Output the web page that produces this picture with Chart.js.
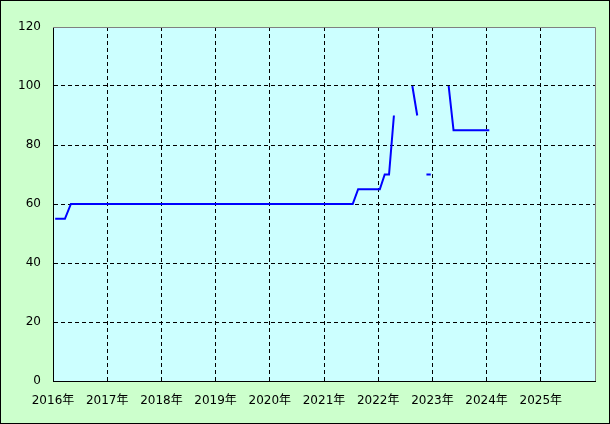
<!DOCTYPE html>
<html lang="ja">
<head>
  <meta charset="UTF-8">
  <title>Chart</title>
  <script src="https://cdn.jsdelivr.net/npm/chart.js"></script>
  <style>
    body { margin: 0; }
    #wrap {
      width: 610px; height: 424px;
      box-sizing: border-box;
      border: 1px solid #000;
      background: #ccffcc;
    }
    #myChart { display: block; }
  </style>
</head>
<body>
  <div id="wrap"><canvas id="myChart" width="608" height="422"></canvas></div>
  <script>
    // x positions in decimal years, null splits the line
    const years = [2016.04, 2016.22, 2016.33, 2021.53, 2021.63, 2022.03, 2022.12, 2022.20, 2022.29, null,
                   2022.63, 2022.72, null,
                   2022.89, 2022.97, null,
                   2023.30, 2023.39, 2024.05];
    const values = [55, 55, 60, 60, 65, 65, 70, 70, 90, null,
                    100, 90, null,
                    70, 70, null,
                    100, 85, 85];
    const yearTicks = [2016, 2017, 2018, 2019, 2020, 2021, 2022, 2023, 2024, 2025];
    const yMax = 120;

    const points = years.map((x, i) => x === null ? { x: NaN, y: null } : { x: x, y: values[i] });

    const frame = {
      id: 'frame',
      beforeDraw(chart) {
        const a = chart.chartArea, c = chart.ctx;
        c.save();
        c.fillStyle = '#ccffff';
        c.fillRect(a.left, a.top, a.right - a.left, a.bottom - a.top);
        c.restore();
      },
      afterDraw(chart) {
        const a = chart.chartArea, c = chart.ctx;
        c.save();
        c.strokeStyle = '#808080';
        c.lineWidth = 1;
        c.beginPath();
        c.moveTo(a.left, a.top + 0.5);
        c.lineTo(a.right + 0.5, a.top + 0.5);
        c.lineTo(a.right + 0.5, a.bottom);
        c.stroke();
        c.restore();
      }
    };

    const font = { family: 'DejaVu Sans, "Noto Sans CJK JP", sans-serif', size: 12 };

    new Chart(document.getElementById('myChart').getContext('2d'), {
      type: 'line',
      data: {
        datasets: [{
          data: points,
          borderColor: '#0000ff',
          borderWidth: 2,
          pointRadius: 0,
          tension: 0,
          spanGaps: false,
          fill: false
        }]
      },
      options: {
        responsive: false,
        animation: false,
        events: [],
        layout: { padding: { top: 26, right: 14, left: 0, bottom: 0 } },
        plugins: { legend: { display: false }, tooltip: { enabled: false } },
        scales: {
          x: {
            type: 'linear',
            min: 2016, max: 2026,
            afterBuildTicks: s => { s.ticks = yearTicks.concat([2026]).map(v => ({ value: v })); },
            afterFit: s => { s.height = 42; },
            ticks: {
              color: '#000', font: font, padding: 13, maxRotation: 0, autoSkip: false,
              callback: v => yearTicks.includes(v) ? v + '年' : ''
            },
            grid: {
              tickLength: 0,
              color: c => (c.tick && (c.tick.value === 2016 || c.tick.value === 2026)) ? 'rgba(0,0,0,0)' : '#000'
            },
            border: { display: true, color: '#000', width: 1, dash: [4, 3] }
          },
          y: {
            min: 0, max: yMax,
            afterFit: s => { s.width = 52; },
            ticks: { stepSize: 20, color: '#000', font: font, padding: 12 },
            grid: {
              tickLength: 0,
              color: c => (c.tick && (c.tick.value === 0 || c.tick.value === yMax)) ? 'rgba(0,0,0,0)' : '#000'
            },
            border: { display: true, color: '#000', width: 1, dash: [4, 3] }
          }
        }
      },
      plugins: [frame]
    });
  </script>
</body>
</html>
